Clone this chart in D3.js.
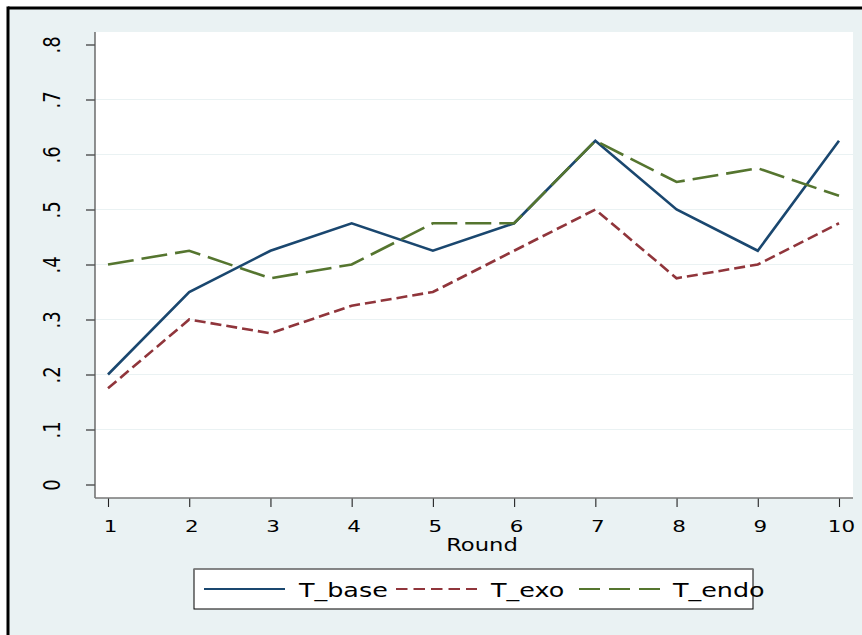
<!DOCTYPE html>
<html>
<head>
<meta charset="utf-8">
<script src="https://d3js.org/d3.v7.min.js"></script>
<style>
body { margin: 0; background: #fff; }
text { font-family: "DejaVu Sans", sans-serif; fill: #000; }
</style>
</head>
<body>
<svg id="chart" width="862" height="635"></svg>
<script>
// data
var rounds = [1, 2, 3, 4, 5, 6, 7, 8, 9, 10];
var tBase = [0.2, 0.35, 0.425, 0.475, 0.425, 0.475, 0.625, 0.5, 0.425, 0.625];
var tExo  = [0.175, 0.3, 0.275, 0.325, 0.35, 0.425, 0.5, 0.375, 0.4, 0.475];
var tEndo = [0.4, 0.425, 0.375, 0.4, 0.475, 0.475, 0.625, 0.55, 0.575, 0.525];
var seriesNames = ["T_base", "T_exo", "T_endo"];
var yTicks = [0, 0.1, 0.2, 0.3, 0.4, 0.5, 0.6, 0.7, 0.8];
var yTickLabels = ["0", ".1", ".2", ".3", ".4", ".5", ".6", ".7", ".8"];
var xTitle = "Round";

var colors = ["#1a476f", "#90353b", "#55752f"];
var dashes = [null, "11,5", "26,8"];
var legendDashes = [null, "11.5,6", "21,9"];

var svg = d3.select("#chart");

// plot region
var plot = { left: 95, right: 853, top: 32, bottom: 498 };

var x = d3.scaleLinear().domain([1, 10]).range([108, 839]);
var y = d3.scaleLinear().domain([0, 0.8]).range([484.5, 44.5]);

// graph region background + black frame (top and left)
svg.append("rect").attr("x", 8).attr("y", 8).attr("width", 854).attr("height", 627)
  .attr("fill", "#eaf2f3");
svg.append("line").attr("x1", 8).attr("x2", 862).attr("y1", 8).attr("y2", 8)
  .attr("stroke", "#000").attr("stroke-width", 3);
svg.append("line").attr("x1", 8).attr("x2", 8).attr("y1", 6.5).attr("y2", 635)
  .attr("stroke", "#000").attr("stroke-width", 3);

svg.append("rect")
  .attr("x", plot.left).attr("y", plot.top)
  .attr("width", plot.right - plot.left).attr("height", plot.bottom - plot.top)
  .attr("fill", "#fff");

// grid lines (not at the ends)
svg.append("g").selectAll("line")
  .data(yTicks.slice(1, -1))
  .enter().append("line")
  .attr("x1", plot.left).attr("x2", plot.right)
  .attr("y1", function(d) { return y(d); })
  .attr("y2", function(d) { return y(d); })
  .attr("stroke", "#eaf2f3").attr("stroke-width", 1.2);

// y axis
var yAxis = svg.append("g")
  .attr("transform", "translate(" + plot.left + ",0)")
  .call(d3.axisLeft(y).tickValues(yTicks).tickSize(9).tickPadding(0)
    .tickFormat(function(d, i) { return yTickLabels[i]; }));
yAxis.select(".domain").remove();
yAxis.selectAll(".tick line").attr("stroke", "#222").attr("stroke-width", 1.1);
yAxis.selectAll(".tick text")
  .attr("x", null).attr("dy", null)
  .attr("text-anchor", "middle")
  .attr("font-size", 18)
  .attr("transform", "translate(-35,0) scale(1.3,1) rotate(-90)");

svg.append("line")
  .attr("x1", plot.left).attr("x2", plot.left)
  .attr("y1", plot.top).attr("y2", plot.bottom)
  .attr("stroke", "#555").attr("stroke-width", 1.3);

// x axis
var xAxis = svg.append("g")
  .attr("transform", "translate(0," + plot.bottom + ")")
  .call(d3.axisBottom(x).tickValues(rounds).tickSize(9).tickFormat(d3.format("d")));
xAxis.select(".domain").remove();
xAxis.selectAll(".tick line").attr("stroke", "#222").attr("stroke-width", 1.1);
xAxis.selectAll(".tick text")
  .attr("y", null).attr("dy", null)
  .attr("font-size", 16.5)
  .attr("transform", "translate(2,34) scale(1.3,1)");

svg.append("line")
  .attr("x1", plot.left).attr("x2", plot.right)
  .attr("y1", plot.bottom).attr("y2", plot.bottom)
  .attr("stroke", "#777").attr("stroke-width", 1.3);

svg.append("text")
  .attr("text-anchor", "middle")
  .attr("font-size", 18)
  .attr("transform", "translate(482,550.5) scale(1.26,1)")
  .text(xTitle);

// lines
var line = d3.line()
  .x(function(d, i) { return x(rounds[i]); })
  .y(function(d) { return y(d); });

[tBase, tExo, tEndo].forEach(function(s, k) {
  svg.append("path")
    .datum(s)
    .attr("fill", "none")
    .attr("stroke", colors[k])
    .attr("stroke-width", 2.6)
    .attr("stroke-dasharray", dashes[k])
    .attr("d", line);
});

// legend
var legend = svg.append("g");
legend.append("rect")
  .attr("x", 194).attr("y", 569).attr("width", 559).attr("height", 40)
  .attr("fill", "#fff").attr("stroke", "#000").attr("stroke-width", 1);
legend.append("line")
  .attr("x1", 194).attr("x2", 753).attr("y1", 569).attr("y2", 569)
  .attr("stroke", "#888").attr("stroke-width", 1.5);

var legX = [204, 396, 579];
var legTextX = [299, 491, 673];
seriesNames.forEach(function(name, k) {
  legend.append("line")
    .attr("x1", legX[k]).attr("x2", legX[k] + 81)
    .attr("y1", 589).attr("y2", 589)
    .attr("stroke", colors[k]).attr("stroke-width", 1.8)
    .attr("stroke-dasharray", legendDashes[k]);
  legend.append("text")
    .attr("font-size", 20)
    .attr("transform", "translate(" + legTextX[k] + ",597.3) scale(1.27,1)")
    .text(name);
});
</script>
</body>
</html>
